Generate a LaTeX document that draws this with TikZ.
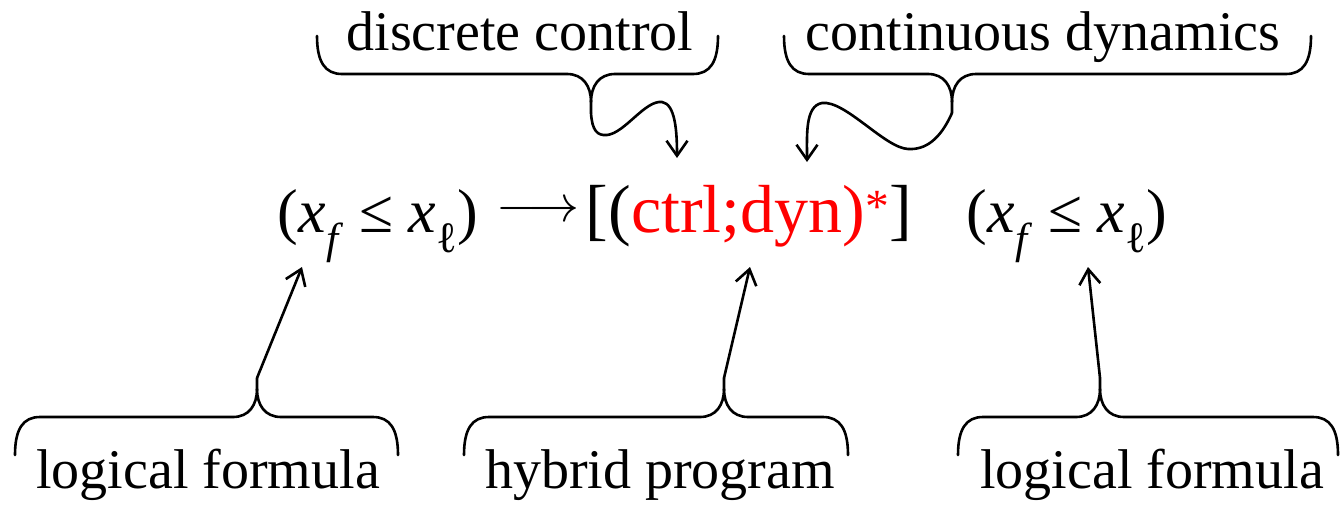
\documentclass[tikz,border=0pt]{standalone}
\usepackage{fontspec}
\setmainfont{Liberation Serif}
\usetikzlibrary{arrows.meta}
\tikzset{
  bracestyle/.style={line width=2.6pt, line cap=round, line join=round},
  ptr/.style={line width=2.6pt, -{Straight Barb[length=15pt,width=21pt]}},
  lbl/.style={font=\fontsize{56}{60}\selectfont, inner sep=0pt, anchor=base},
  frm/.style={font=\fontsize{62}{70}\selectfont, inner sep=0pt, anchor=base},
}
% #1 left x, #2 right x, #3 tip x, #4 y of the bar, #5 sign (+1 tip down, -1 tip up), #6 name of tip
\newcommand\mybrace[6]{%
  \draw[bracestyle] (#1,{#4-(#5)*38}) .. controls (#1,{#4-(#5)*12}) and ({#1+8},#4) .. ({#1+25},#4)
     -- ({#3-24},#4) .. controls ({#3-8},#4) and (#3,{#4+(#5)*12}) .. (#3,{#4+(#5)*28})
     -- (#3,{#4+(#5)*39}) coordinate (#6);
  \draw[bracestyle] (#2,{#4-(#5)*38}) .. controls (#2,{#4-(#5)*12}) and ({#2-8},#4) .. ({#2-25},#4)
     -- ({#3+24},#4) .. controls ({#3+8},#4) and (#3,{#4+(#5)*12}) .. (#3,{#4+(#5)*28});
}
\begin{document}
\begin{tikzpicture}[x=1pt,y=-1pt]
\useasboundingbox (0,0) rectangle (1343,509);

% top labels
\node[lbl] (dc) at (520,50) {discrete control};
\node[lbl] (cd) at (1043,50) {continuous dynamics};
% bottom labels
\node[lbl] (lf1) at (208,488) {logical formula};
\node[lbl] (hp) at (660,488) {hybrid program};
\node[lbl] (lf2) at (1152,488) {logical formula};

% formula
\node[frm] (pre) at (378,232) {(\textit{x}\textsubscript{\textit{f}} ≤ \textit{x}\textsubscript{ℓ})};
\node[inner sep=0pt, scale=5.2, transform shape] (imp) at (538,212) {$\longrightarrow$};
\node[frm, font=\fontsize{68}{76}\selectfont] (prog) at (749,232) {[(\textcolor{red}{ctrl;dyn)\textsuperscript{*}}]};
\node[frm] (post) at (1067,232) {(\textit{x}\textsubscript{\textit{f}} ≤ \textit{x}\textsubscript{ℓ})};

% braces
\mybrace{317}{718}{591}{74}{1}{tlt}
\mybrace{784}{1311}{952}{74}{1}{trt}
\mybrace{15}{398}{257}{417}{-1}{blt}
\mybrace{464}{848}{724}{417}{-1}{bmt}
\mybrace{958}{1338}{1100}{417}{-1}{brt}

% arrow targets
\coordinate (preT) at (302,267);
\coordinate (progT) at (750,267);
\coordinate (postT) at (1088,267);
\coordinate (ctrlT) at (677,158);
\coordinate (dynT) at (807,162);

\draw[ptr] (blt) -- (preT);
\draw[ptr] (bmt) -- (progT);
\draw[ptr] (brt) -- (postT);

\draw[ptr] (tlt) .. controls (592,130) and (597,136) .. (607,135)
   .. controls (625,133) and (645,100) .. (662,102)
   .. controls (675,104) and (677,130) .. (ctrlT);
\draw[ptr] (trt) .. controls (940,140) and (925,150) .. (908,149)
   .. controls (885,148) and (845,100) .. (822,103)
   .. controls (805,106) and (807,135) .. (dynT);
\end{tikzpicture}
\end{document}
